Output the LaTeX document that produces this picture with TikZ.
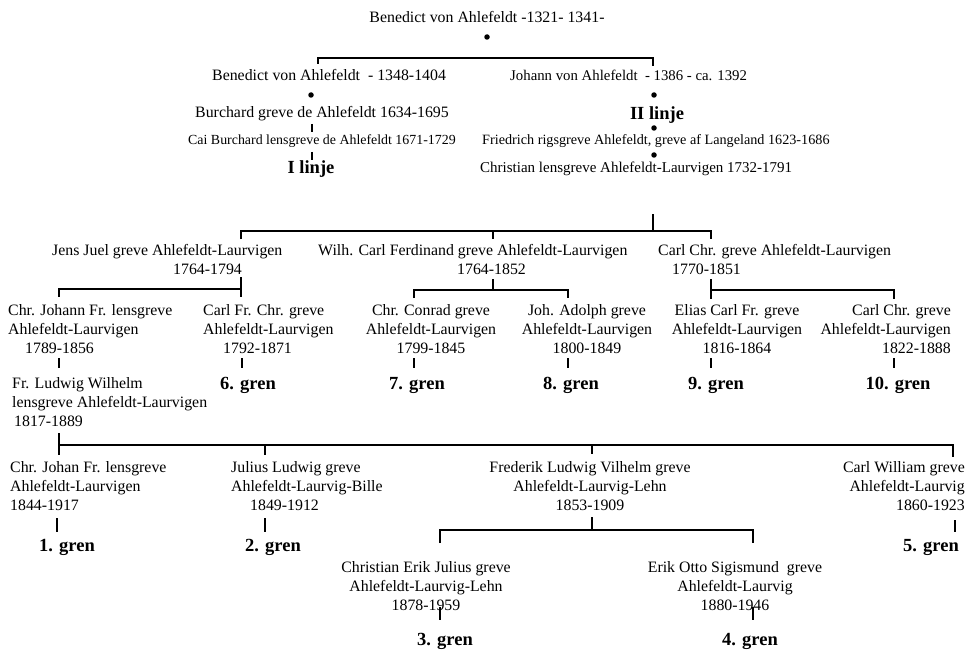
\documentclass[tikz,border=0pt]{standalone}
\usepackage{fontspec}
\setmainfont{Liberation Serif}
\tikzset{
  txt/.style={inner sep=0pt, font=\fontsize{15.85}{19}\selectfont},
  grenlabel/.style={inner sep=0pt, anchor=base, font=\fontsize{18.5}{20}\selectfont\bfseries},
  link/.style={line width=1.35pt},
  knot/.style={circle, fill=black, inner sep=0pt, minimum size=5.5pt},
}
\begin{document}
\begin{tikzpicture}[x=1pt,y=-1pt]
\useasboundingbox (0,0) rectangle (967,650);
% ---------- top lines ----------
\node[txt, anchor=base] (n0) at (487,23) {Benedict von Ahlefeldt -1321- 1341-};
\node[knot] (k0) at (487,37) {};
\node[txt, anchor=base west] (n1a) at (212,81) {Benedict von Ahlefeldt\ \ - 1348-1404};
\node[txt, anchor=base west, font=\fontsize{14.8}{19}\selectfont] (n1b) at (510,81) {Johann von Ahlefeldt\ \ - 1386 - ca. 1392};
\node[knot] (k1a) at (311,95) {};
\node[knot] (k1b) at (654,95) {};
\node[txt, anchor=base] (n2a) at (322,118) {Burchard greve de Ahlefeldt 1634-1695};
\node[grenlabel] (l2) at (657,120) {II linje};
\node[knot] (k2b) at (654,128) {};
\node[txt, anchor=base west, font=\fontsize{13.9}{19}\selectfont] (n3a) at (188,145) {Cai Burchard lensgreve de Ahlefeldt 1671-1729};
\node[txt, anchor=base west, font=\fontsize{14.2}{19}\selectfont] (n3b) at (482,145) {Friedrich rigsgreve Ahlefeldt, greve af Langeland 1623-1686};
\node[knot] (k3b) at (654,155) {};
\node[grenlabel] (l1) at (311,174) {I linje};
\node[txt, anchor=base west, font=\fontsize{15}{19}\selectfont] (n4b) at (480,172) {Christian lensgreve Ahlefeldt-Laurvigen 1732-1791};
\coordinate (a1) at (318,64); \coordinate (a2) at (318,58);
\coordinate (a3) at (653,58); \coordinate (a4) at (653,66);
\draw[link] (a1) -- (a2) -- (a3) -- (a4);
\coordinate (b1) at (312,124); \coordinate (b2) at (312,132);
\draw[link] (b1) -- (b2);
\coordinate (b3) at (312,152); \coordinate (b4) at (312,160);
\draw[link] (b3) -- (b4);
% ---------- generation of Christian ----------
\coordinate (c0) at (653,214); \coordinate (c1) at (653,231);
\draw[link] (c0) -- (c1);
\coordinate (c2) at (241,239); \coordinate (c3) at (241,231);
\coordinate (c4) at (711,231); \coordinate (c5) at (711,239);
\draw[link] (c2) -- (c3) -- (c4) -- (c5);
\coordinate (c6) at (493,231); \coordinate (c7) at (493,239);
\draw[link] (c6) -- (c7);
\node[txt, anchor=north west, align=left] (jens) at (52,244.5) {Jens Juel greve Ahlefeldt-Laurvigen\\\hspace*{121pt}1764-1794};
\node[txt, anchor=north west, align=left] (wilh) at (318,244.5) {Wilh. Carl Ferdinand greve Ahlefeldt-Laurvigen\\\hspace*{139pt}1764-1852};
\node[txt, anchor=north west, align=left] (carl) at (658,244.5) {Carl Chr. greve Ahlefeldt-Laurvigen\\\hspace*{14pt}1770-1851};
% brackets below the three brothers
\coordinate (d1) at (241,277); \coordinate (d2) at (241,297);
\draw[link] (d1) -- (d2);
\coordinate (d3) at (241,289); \coordinate (d4) at (59,289); \coordinate (d5) at (59,297);
\draw[link] (d3) -- (d4) -- (d5);
\coordinate (e1) at (493,279); \coordinate (e2) at (493,290);
\draw[link] (e1) -- (e2);
\coordinate (e3) at (414,298); \coordinate (e4) at (414,290);
\coordinate (e5) at (568,290); \coordinate (e6) at (568,298);
\draw[link] (e3) -- (e4) -- (e5) -- (e6);
\coordinate (f1) at (711,279); \coordinate (f2) at (711,290);
\coordinate (f3) at (894,290); \coordinate (f4) at (894,299);
\draw[link] (f1) -- (f2) -- (f3) -- (f4);
\coordinate (f5) at (711,290); \coordinate (f6) at (711,299);
\draw[link] (f5) -- (f6);
% ---------- grandchildren ----------
\node[txt, anchor=north west, align=left] (cj) at (8,304.5) {Chr. Johann Fr. lensgreve\\Ahlefeldt-Laurvigen\\\hspace*{17pt}1789-1856};
\node[txt, anchor=north west, align=left] (cf) at (203,304.5) {Carl Fr. Chr. greve\\Ahlefeldt-Laurvigen\\\hspace*{20pt}1792-1871};
\node[txt, anchor=north, align=center] (cc) at (431,304.5) {Chr. Conrad greve\\Ahlefeldt-Laurvigen\\1799-1845};
\node[txt, anchor=north, align=center] (ja) at (587,304.5) {Joh. Adolph greve\\Ahlefeldt-Laurvigen\\1800-1849};
\node[txt, anchor=north, align=center] (ec) at (737,304.5) {Elias Carl Fr. greve\\Ahlefeldt-Laurvigen\\1816-1864};
\node[txt, anchor=north east, align=right] (cc2) at (951,304.5) {Carl Chr. greve\\Ahlefeldt-Laurvigen\\1822-1888};
\foreach \xx/\nm in {59/g0,242/g6t,414/g7t,568/g8t,711/g9t,894/g10t}{
  \coordinate (\nm a) at (\xx,358); \coordinate (\nm b) at (\xx,368);
  \draw[link] (\nm a) -- (\nm b);
}
\node[grenlabel] (g6) at (248,389) {6. gren};
\node[grenlabel] (g7) at (417,389) {7. gren};
\node[grenlabel] (g8) at (571,389) {8. gren};
\node[grenlabel] (g9) at (716,389) {9. gren};
\node[grenlabel] (g10) at (898,389) {10. gren};
\node[txt, anchor=north west, align=left] (fl) at (12,377.5) {Fr. Ludwig Wilhelm\\lensgreve Ahlefeldt-Laurvigen\\\hspace*{2pt}1817-1889};
% ---------- children of Fr. Ludwig ----------
\coordinate (h1) at (59,433); \coordinate (h2) at (59,455);
\draw[link] (h1) -- (h2);
\coordinate (h3) at (59,445); \coordinate (h4) at (953,445); \coordinate (h5) at (953,457);
\draw[link] (h3) -- (h4) -- (h5);
\coordinate (h6) at (265,445); \coordinate (h7) at (265,455);
\draw[link] (h6) -- (h7);
\coordinate (h8) at (592,445); \coordinate (h9) at (592,454);
\draw[link] (h8) -- (h9);
\node[txt, anchor=north west, align=left] (cjf) at (10,461.5) {Chr. Johan Fr. lensgreve\\Ahlefeldt-Laurvigen\\1844-1917};
\node[txt, anchor=north west, align=left] (jl) at (231,461.5) {Julius Ludwig greve\\Ahlefeldt-Laurvig-Bille\\\hspace*{19pt}1849-1912};
\node[txt, anchor=north, align=center] (fr) at (590,461.5) {Frederik Ludwig Vilhelm greve\\Ahlefeldt-Laurvig-Lehn\\1853-1909};
\node[txt, anchor=north east, align=right] (cw) at (965,461.5) {Carl William greve\\Ahlefeldt-Laurvig\\1860-1923};
\coordinate (i1) at (57,518); \coordinate (i2) at (57,532);
\draw[link] (i1) -- (i2);
\coordinate (i3) at (265,518); \coordinate (i4) at (265,532);
\draw[link] (i3) -- (i4);
\coordinate (i5) at (955,520); \coordinate (i6) at (955,532);
\draw[link] (i5) -- (i6);
\coordinate (j1) at (592,517); \coordinate (j2) at (592,530);
\draw[link] (j1) -- (j2);
\coordinate (j3) at (440,543); \coordinate (j4) at (440,530);
\coordinate (j5) at (753,530); \coordinate (j6) at (753,543);
\draw[link] (j3) -- (j4) -- (j5) -- (j6);
\node[grenlabel] (g1) at (67,551) {1. gren};
\node[grenlabel] (g2) at (273,551) {2. gren};
\node[grenlabel] (g5) at (931,551) {5. gren};
\node[txt, anchor=north, align=center] (ce) at (426,561.5) {Christian Erik Julius greve\\Ahlefeldt-Laurvig-Lehn\\1878-1959};
\node[txt, anchor=north, align=center] (eo) at (735,561.5) {Erik Otto Sigismund\ \ greve\\Ahlefeldt-Laurvig\\1880-1946};
\coordinate (m1) at (440,607); \coordinate (m2) at (440,620);
\draw[link] (m1) -- (m2);
\coordinate (m3) at (753,607); \coordinate (m4) at (753,620);
\draw[link] (m3) -- (m4);
\node[grenlabel] (g3) at (445,645) {3. gren};
\node[grenlabel] (g4) at (750,645) {4. gren};
\end{tikzpicture}
\end{document}
